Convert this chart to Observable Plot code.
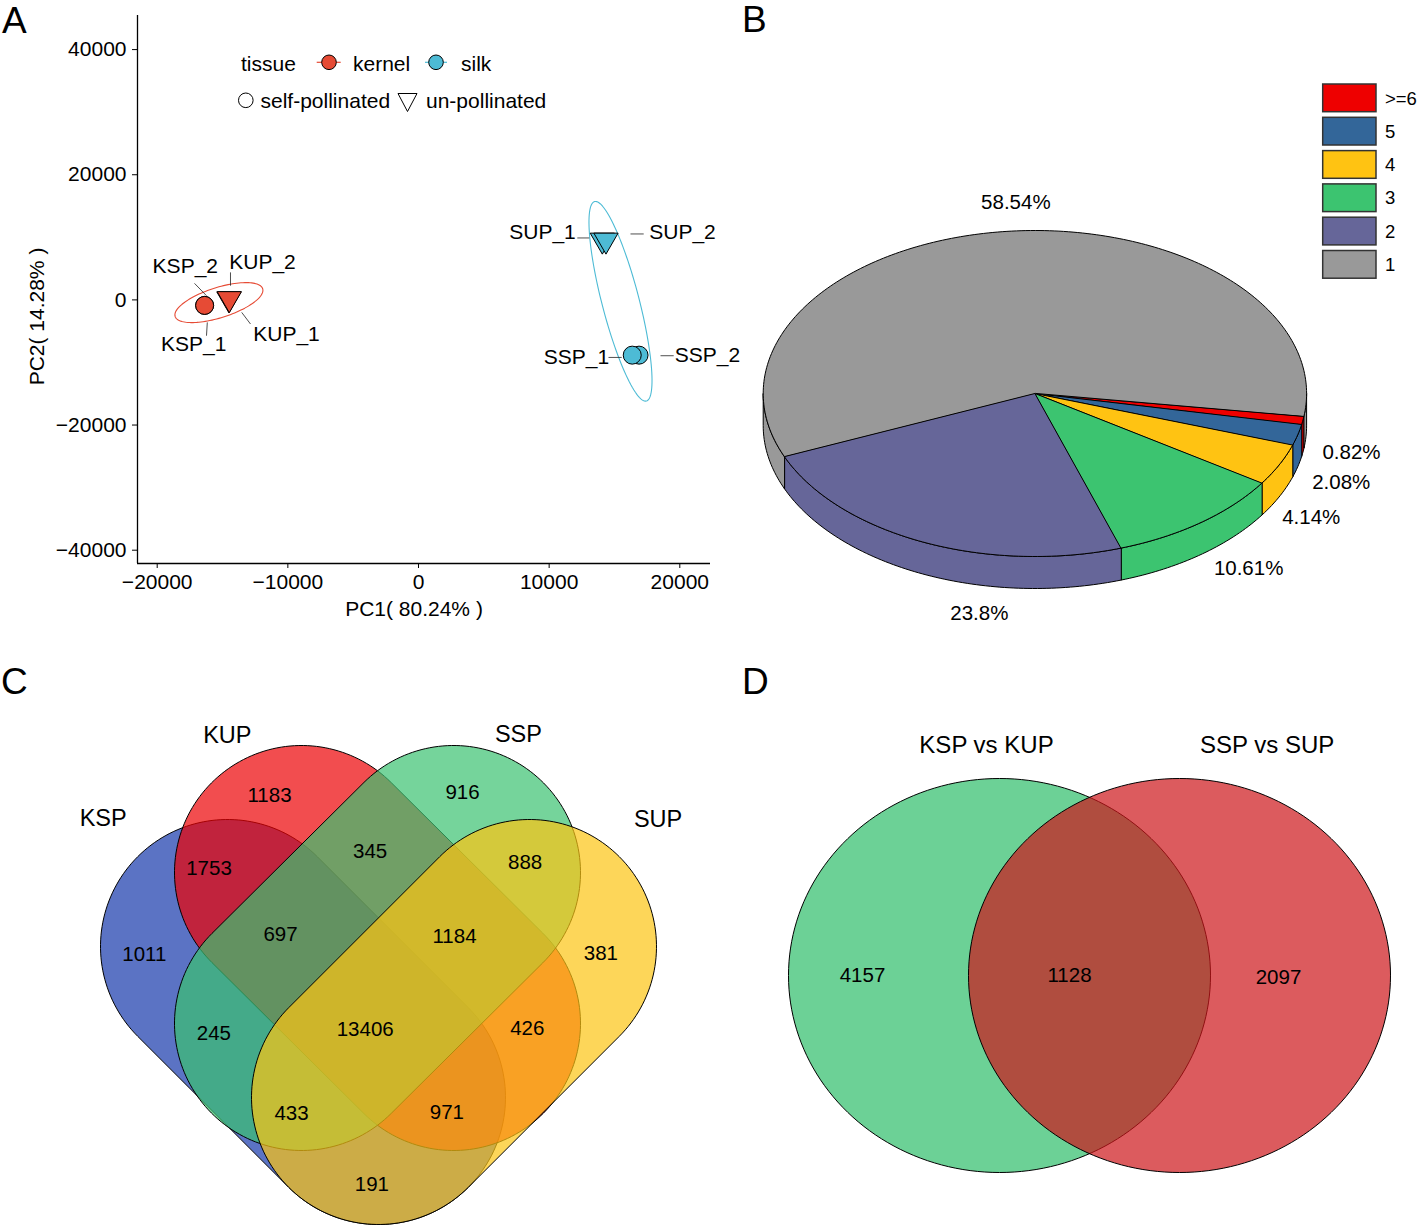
<!DOCTYPE html>
<html><head><meta charset="utf-8">
<script src="https://cdn.jsdelivr.net/npm/d3@7"></script>
<script src="https://cdn.jsdelivr.net/npm/@observablehq/plot@0.6"></script>
<style>
body{margin:0;background:#fff;}
#root{position:relative;width:1418px;height:1228px;font-family:"Liberation Sans",Arial,Helvetica,sans-serif;color:#000;overflow:hidden;background:#fff}
.panel{position:absolute}
</style></head><body><div id="root"></div>
<script>
// ================= DATA =================
// Panel A: PCA
const samples     = ["KSP_1","KSP_2","KUP_1","KUP_2","SSP_2","SSP_1","SUP_1","SUP_2"];
const pc1         = [-16370,-16370,-14510,-14480, 16880, 16360, 14070, 14350];
const pc2         = [  -880,  -880,   160,   200, -8830, -8830,  9550,  9550];
const tissue      = ["kernel","kernel","kernel","kernel","silk","silk","silk","silk"];
const pollination = ["self-pollinated","self-pollinated","un-pollinated","un-pollinated","self-pollinated","self-pollinated","un-pollinated","un-pollinated"];
const tissueNames  = ["kernel","silk"];
const tissueColors = ["#E64B35","#4DBBD5"];
const pcAxisTitles = ["PC1( 80.24% )","PC2( 14.28% )"];
const pcXTicks = [-20000,-10000,0,10000,20000];
const pcYTicks = [-40000,-20000,0,20000,40000];

// Panel B: 3D pie
const pieCats   = [">=6","5","4","3","2","1"];
const piePct    = [0.82, 2.08, 4.14, 10.61, 23.8, 58.54];
const pieColors = ["#EE0000","#336699","#FFC312","#3CC470","#666699","#999999"];

// Panel C: four-set Venn
const vennSets      = ["KSP","KUP","SSP","SUP"];
const vennSetColors = ["#1537AB","#EC0104","#3AC270","#FCC413"];
const vennRegions   = ["KUP","SSP","KSP&KUP","KUP&SSP","SSP&SUP","KSP","KSP&KUP&SSP","KUP&SSP&SUP","SUP","KSP&SSP","KSP&KUP&SSP&SUP","KUP&SUP","KSP&SSP&SUP","KSP&KUP&SUP","KSP&SUP"];
const vennCounts    = [1183, 916, 1753, 345, 888, 1011, 697, 1184, 381, 245, 13406, 426, 433, 971, 191];

// Panel D: two-set Venn
const dSets      = ["KSP vs KUP","SSP vs SUP"];
const dSetColors = ["#2DBD69","#CD1519"];
const dRegions   = ["KSP vs KUP only","both","SSP vs SUP only"];
const dCounts    = [4157, 1128, 2097];

// ================= LAYOUT (positions / geometry, not data) =================
const FONT = "'Liberation Sans', Arial, Helvetica, sans-serif";
// A: label anchors & leader segments (data units)
const labLX = [-17206,-17849,-10103,-11940, 22120, 12093,  9491, 20207];
const labLY = [ -7052,  5309, -5453,  5996, -8922, -9194, 10793, 10793];
const segX1 = [-16165,-17145,-13532,-14390, 18523, 14543, 12155, 16226];
const segY1 = [ -3598,  2638, -1999,  4397, -8922, -9194,  9898, 10537];
const segX2 = [-16227,-16227,-12859,-14390, 19533, 15553, 13073, 17237];
const segY2 = [ -5724,   671, -3854,  2271, -8922, -9194,  9898, 10537];
// A: confidence ellipses (centre, major & minor semi-axis vectors, data units)
const ellCX = [-15277, 15461], ellCY = [-432, -224];
const ellAX = [3350, -1981],  ellAY = [2215, 15942];
const ellBX = [-349, -1378],  ellBY = [2302, -747];
// B geometry
const PIE = {w:678, h:580, cx:294.4, cy:333, rx:271.7, ry:163, depth:32, start:8, labR:1.2};
const pieNudgeX = [-5,-9,-17,15,79,23], pieNudgeY = [-5,7,7,-12,10,3];
// C geometry (panel px): capsule shapes, end-cap centres + radius
const capX1 = [227,301,453,529], capY1 = [296,222,222,296];
const capX2 = [378,453,301,378], capY2 = [447,373,373,447];
const capR = 127;
const vennSetLX = [102.7,226.8,517.9,657.6], vennSetLY = [167.6,85,84.3,169.4];
const vennLX = [269,462,208.5,369.6,524.6,143.8,280,454,600.4,213.4,364.7,526.8,291,446.4,371.4];
const vennLY = [145,142,217.6,201,211.8,304,283.5,286,302.7,383,378.8,377.7,463,462,533.6];
// D geometry (panel px)
const dCX = [259,439], dCY = [325,325], dRX = 211, dRY = 197;
const dSetLX = [246,526.7], dSetLY = [95,95];
const dLX = [122,329,538], dLY = [325,325,327];

const root = document.getElementById("root");
function place(el, left, top){
  const d = document.createElement("div");
  d.className = "panel"; d.style.left = left + "px"; d.style.top = top + "px";
  d.appendChild(el); root.appendChild(d); return d;
}
const baseStyle = {fontFamily: FONT, fontSize: "21px", color: "#000", background: "transparent", overflow: "visible"};
const rad = d => d*Math.PI/180;

// ================= PANEL A =================
const pcaRows = samples.map((s,i)=>({
  sample:s, pc1:pc1[i], pc2:pc2[i], tissue:tissue[i], poll:pollination[i],
  color: tissueColors[tissueNames.indexOf(tissue[i])],
  lx:labLX[i], ly:labLY[i], x1:segX1[i], y1:segY1[i], x2:segX2[i], y2:segY2[i]
}));
const ellRows = tissueNames.flatMap((g,k)=> d3.range(0,361,3).map(deg=>{
  const t = rad(deg);
  return {g, color: tissueColors[k],
    x: ellCX[k] + Math.cos(t)*ellAX[k] + Math.sin(t)*ellBX[k],
    y: ellCY[k] + Math.cos(t)*ellAY[k] + Math.sin(t)*ellBY[k]};
}));
const triangleDown = {draw(context, size){
  const w = Math.sqrt(size/0.433), h = w*0.866;
  context.moveTo(-w/2,-h/3); context.lineTo(w/2,-h/3); context.lineTo(0,2*h/3); context.closePath();
}};
const xMin = -21508, xMax = 22350, yMin = -42126, yMax = 45448;
const plotA = Plot.plot({
  width: 740, height: 640, marginLeft: 137, marginRight: 30, marginTop: 15, marginBottom: 77,
  style: baseStyle,
  x: {domain:[xMin,xMax], ticks: pcXTicks, tickFormat: d3.format("d"), tickSize: 5, tickPadding: 6, label: null},
  y: {domain:[yMin,yMax], ticks: pcYTicks, tickFormat: d3.format("d"), tickSize: 5, tickPadding: 6, label: null},
  color: {type: "identity"},
  marks: [
    Plot.ruleX([xMin], {stroke:"#000", strokeWidth:1.3}),
    Plot.ruleY([yMin], {stroke:"#000", strokeWidth:1.3}),
    Plot.line(ellRows, {x:"x", y:"y", z:"g", stroke:"color", strokeWidth:1.1, curve:"linear-closed"}),
    Plot.link(pcaRows, {x1:"x1", y1:"y1", x2:"x2", y2:"y2", stroke:"#222", strokeWidth:0.8}),
    Plot.dot(pcaRows.filter(d=>d.poll==="self-pollinated"), {x:"pc1", y:"pc2", symbol:"circle", fill:"color", stroke:"#000", strokeWidth:1, r:9}),
    Plot.dot(pcaRows.filter(d=>d.poll==="un-pollinated"), {x:"pc1", y:"pc2", symbol:triangleDown, fill:"color", stroke:"#000", strokeWidth:1, r:9}),
    Plot.text(pcaRows, {x:"lx", y:"ly", text:"sample", fontSize:21}),
    Plot.text([pcAxisTitles[0]], {text:d=>d, frameAnchor:"bottom", textAnchor:"middle", lineAnchor:"middle", dx:-10, dy:46, fontSize:21}),
    Plot.text([pcAxisTitles[1]], {text:d=>d, frameAnchor:"left", textAnchor:"middle", lineAnchor:"middle", rotate:-90, dx:-100, dy:27, fontSize:21})
  ]
});
place(plotA, 0, 0);

// ================= PANEL B =================
let acc = PIE.start;
const slices = piePct.map((p,i)=>{ const t1 = acc, t2 = acc + p*3.6; acc = t2; return {i, t1, t2, color: pieColors[i]}; });
function arcPts(t1, t2){
  const n = Math.max(2, Math.ceil((t2-t1)/1));
  return d3.range(n+1).map(k => t1 + (t2-t1)*k/n);
}
const dU = PIE.depth/PIE.ry;
const wallRows = [];
slices.forEach(s=>{
  [0,360].forEach(k=>{
    const lo = Math.max(s.t1,k), hi = Math.min(s.t2,k+180);
    if (hi > lo){
      const id = "w"+s.i+"_"+k;
      const a = arcPts(lo,hi);
      a.forEach(t=>wallRows.push({id, fill:s.color, x:Math.cos(rad(t)), y:Math.sin(rad(t))}));
      a.slice().reverse().forEach(t=>wallRows.push({id, fill:s.color, x:Math.cos(rad(t)), y:Math.sin(rad(t))+dU}));
    }
  });
});
const topRows = [];
slices.forEach(s=>{
  const id = "t"+s.i;
  topRows.push({id, fill:s.color, x:0, y:0});
  arcPts(s.t1,s.t2).forEach(t=>topRows.push({id, fill:s.color, x:Math.cos(rad(t)), y:Math.sin(rad(t))}));
});
const pieLabels = slices.map(s=>{
  const m = rad((s.t1+s.t2)/2), sn = Math.sin(m);
  return {text: piePct[s.i] + "%",
    x: PIE.labR*Math.cos(m) + pieNudgeX[s.i]/PIE.rx,
    y: PIE.labR*sn + (sn>0 ? dU : 0) + pieNudgeY[s.i]/PIE.ry};
});
const plotB = Plot.plot({
  width: PIE.w, height: PIE.h, margin: 0, style: baseStyle,
  x: {domain:[-1,1], range:[PIE.cx-PIE.rx, PIE.cx+PIE.rx], axis:null},
  y: {domain:[-1,1], range:[PIE.cy-PIE.ry, PIE.cy+PIE.ry], axis:null},
  color: {type:"identity"},
  marks: [
    Plot.line(wallRows, {x:"x", y:"y", z:"id", fill:"fill", stroke:"#000", strokeWidth:1, curve:"linear-closed"}),
    Plot.line(topRows, {x:"x", y:"y", z:"id", fill:"fill", stroke:"#000", strokeWidth:1, curve:"linear-closed"}),
    Plot.text(pieLabels, {x:"x", y:"y", text:"text", fontSize:20.5})
  ]
});
place(plotB, 740, 60);

// ================= PANEL C =================
function capsule(x1, y1, x2, y2, r, n=90){
  const phi = Math.atan2(y2-y1, x2-x1), pts = [];
  for (let k=0; k<=n; k++){ const a = phi - Math.PI/2 + Math.PI*k/n; pts.push({x:x2 + r*Math.cos(a), y:y2 + r*Math.sin(a)}); }
  for (let k=0; k<=n; k++){ const a = phi + Math.PI/2 + Math.PI*k/n; pts.push({x:x1 + r*Math.cos(a), y:y1 + r*Math.sin(a)}); }
  return pts;
}
const vennRows = vennSets.flatMap((s,k)=> capsule(capX1[k], capY1[k], capX2[k], capY2[k], capR).map(p=>({...p, set:s, fill:vennSetColors[k]})));
const vennSetLab = vennSets.map((s,k)=>({text:s, x:vennSetLX[k], y:vennSetLY[k]}));
const vennCountLab = vennRegions.map((r,k)=>({region:r, text:String(vennCounts[k]), x:vennLX[k], y:vennLY[k]}));
const plotC = Plot.plot({
  width: 720, height: 578, margin: 0, style: baseStyle,
  x: {domain:[0,720], range:[0,720], axis:null},
  y: {domain:[0,578], range:[0,578], axis:null},
  color: {type:"identity"},
  marks: [
    Plot.line(vennRows, {x:"x", y:"y", z:"set", fill:"fill", fillOpacity:0.7, stroke:"#000", strokeWidth:1, curve:"linear-closed"}),
    Plot.text(vennSetLab, {x:"x", y:"y", text:"text", fontSize:23.5}),
    Plot.text(vennCountLab, {x:"x", y:"y", text:"text", fontSize:20.5})
  ]
});
place(plotC, 0, 650);

// ================= PANEL D =================
function ellipse(cx, cy, a, b, n=180){
  return d3.range(n).map(k=>{ const t = 2*Math.PI*k/n; return {x: cx + a*Math.cos(t), y: cy + b*Math.sin(t)}; });
}
const dRows = dSets.flatMap((s,k)=> ellipse(dCX[k], dCY[k], dRX, dRY).map(p=>({...p, set:s, fill:dSetColors[k]})));
const dSetLab = dSets.map((s,k)=>({text:s, x:dSetLX[k], y:dSetLY[k]}));
const dCountLab = dRegions.map((r,k)=>({region:r, text:String(dCounts[k]), x:dLX[k], y:dLY[k]}));
const plotD = Plot.plot({
  width: 678, height: 578, margin: 0, style: baseStyle,
  x: {domain:[0,678], range:[0,678], axis:null},
  y: {domain:[0,578], range:[0,578], axis:null},
  color: {type:"identity"},
  marks: [
    Plot.line(dRows, {x:"x", y:"y", z:"set", fill:"fill", fillOpacity:0.7, stroke:"#000", strokeWidth:1, curve:"linear-closed"}),
    Plot.text(dSetLab, {x:"x", y:"y", text:"text", fontSize:24}),
    Plot.text(dCountLab, {x:"x", y:"y", text:"text", fontSize:20.5})
  ]
});
place(plotD, 740, 650);

// ================= OVERLAY: legends + panel letters =================
const NS = "http://www.w3.org/2000/svg";
const ov = document.createElementNS(NS, "svg");
ov.setAttribute("width", 1418); ov.setAttribute("height", 1228);
ov.style.cssText = "position:absolute;left:0;top:0;pointer-events:none;font-family:" + FONT;
function el(tag, attrs, text){
  const e = document.createElementNS(NS, tag);
  for (const k in attrs) e.setAttribute(k, attrs[k]);
  if (text != null) e.textContent = text;
  ov.appendChild(e); return e;
}
// Panel letters
[["A",2,32.5],["B",742,31.5],["C",1,694],["D",742,694]].forEach(([t,x,y])=>el("text",{x,y,"font-size":37},t));
// Legend A
el("text",{x:241,y:63,"font-size":21,"dominant-baseline":"central"},"tissue");
const keyX = [[316.7,340.7,329,353],[425,447,436,461]];
tissueNames.forEach((n,k)=>{
  const [a,b,c,tx] = keyX[k];
  el("line",{x1:a,x2:b,y1:62.3,y2:62.3,stroke:tissueColors[k],"stroke-width":1.2});
  el("circle",{cx:c,cy:62.3,r:7.3,fill:tissueColors[k],stroke:"#000","stroke-width":1});
  el("text",{x:tx,y:63,"font-size":21,"dominant-baseline":"central"},n);
});
el("circle",{cx:245.8,cy:100.3,r:7.3,fill:"#fff",stroke:"#000","stroke-width":1});
el("text",{x:260.5,y:100.5,"font-size":21,"dominant-baseline":"central"},"self-pollinated");
el("polygon",{points:"398,93.5 417,93.5 407.5,111.5",fill:"#fff",stroke:"#000","stroke-width":1});
el("text",{x:426,y:100.5,"font-size":21,"dominant-baseline":"central"},"un-pollinated");
// Legend B
pieCats.forEach((c,i)=>{
  const y = 84 + i*33.3;
  el("rect",{x:1322.7,y,width:53.3,height:27.7,fill:pieColors[i],stroke:"#333","stroke-width":1.5});
  el("text",{x:1385,y:y+14,"font-size":18.5,"dominant-baseline":"central"},c);
});
root.appendChild(ov);
</script>
</body></html>
